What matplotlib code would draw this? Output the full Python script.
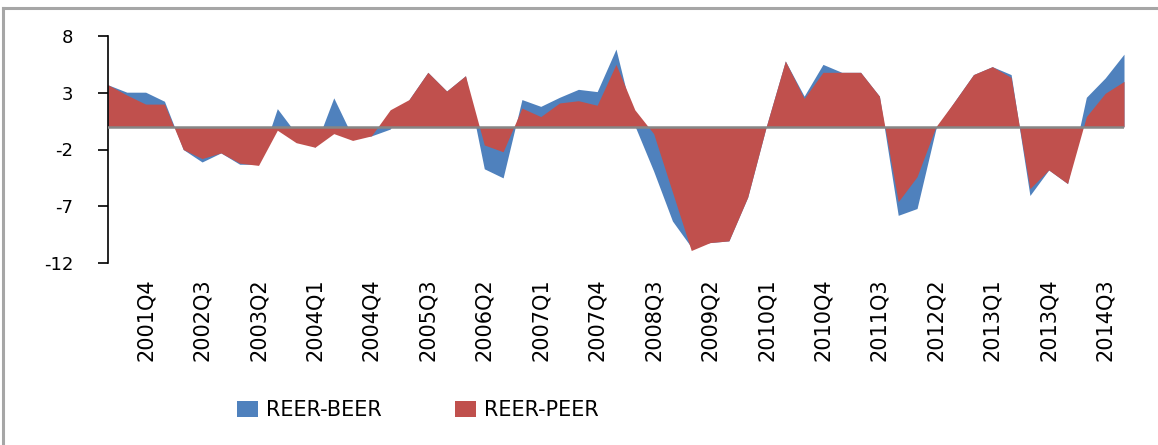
import numpy as np
import matplotlib.pyplot as plt
from matplotlib.patches import Patch
from matplotlib.lines import Line2D

plt.rcParams['axes.unicode_minus'] = False

# quarters 2001Q2 .. 2014Q4
quarters = ['%dQ%d' % (y, q) for y in range(2001, 2015) for q in range(1, 5)][1:]

reer_beer = [3.7, 3.05, 3.05, 2.25, -2.0, -3.1, -2.3, -3.3, -3.3, 1.6,
             -0.6, -1.8, 2.55, -0.9, -0.8, -0.2, 2.4, 4.8, 3.15, 4.5,
             -3.7, -4.5, 2.4, 1.8, 2.6, 3.3, 3.1, 6.85, 0.1, -3.9,
             -8.3, -10.6, -10.2, -10.05, -6.2, 0.1, 5.8, 2.7, 5.5, 4.8,
             4.8, 2.7, -7.8, -7.2, -0.2, 2.25, 4.6, 5.3, 4.6, -6.05,
             -3.8, -5.0, 2.6, 4.3, 6.4]
reer_peer = [3.7, 2.8, 2.0, 2.0, -2.0, -2.8, -2.3, -3.2, -3.4, -0.3,
             -1.4, -1.8, -0.6, -1.2, -0.8, 1.5, 2.4, 4.8, 3.15, 4.5,
             -1.6, -2.2, 1.65, 0.9, 2.1, 2.3, 1.9, 5.5, 1.5, -0.6,
             -5.75, -10.9, -10.2, -10.05, -6.2, 0.1, 5.8, 2.5, 4.8, 4.8,
             4.8, 2.7, -6.6, -4.4, 0.0, 2.25, 4.6, 5.3, 4.35, -5.45,
             -3.8, -5.0, 0.9, 2.95, 4.0]

blue = '#4F81BD'
red = '#C0504D'

W, H = 1158, 445
fig = plt.figure(figsize=(W / 100, H / 100), dpi=100)
ax = fig.add_axes([108 / W, 1 - 263 / H, 1016 / W, 227 / H])

x = np.arange(len(quarters))
ax.fill_between(x, 0, reer_beer, color=blue, lw=0)
ax.fill_between(x, 0, reer_peer, color=red, lw=0)
ax.axhline(0, color='#868686', lw=1.8, zorder=5)

ax.set_xlim(0, len(quarters) - 1)
ax.set_ylim(-12, 8)
ax.set_yticks([-12, -7, -2, 3, 8])
ax.tick_params(axis='y', direction='out', length=7, width=1.2, pad=18,
               labelsize=13, colors='black')

# label every third quarter starting at 2001Q4
idx = list(range(2, len(quarters), 3))
ax.set_xticks(idx)
ax.set_xticklabels([quarters[i] for i in idx], rotation=90, fontsize=15)
ax.tick_params(axis='x', length=0, pad=11)

for s in ['top', 'right', 'bottom']:
    ax.spines[s].set_visible(False)
ax.spines['left'].set_linewidth(1.2)

# outer chart border (left and top only visible)
fig.add_artist(Line2D([3 / W, 3 / W], [0, 1 - 8 / H], transform=fig.transFigure,
                      color='#a6a6a6', lw=2.2))
fig.add_artist(Line2D([3 / W, 1], [1 - 8 / H, 1 - 8 / H], transform=fig.transFigure,
                      color='#a6a6a6', lw=2.2))

handles = [Patch(facecolor=blue, label='REER-BEER'),
           Patch(facecolor=red, label='REER-PEER')]
fig.legend(handles=handles, loc='center left', bbox_to_anchor=(237 / W, 1 - 410 / H),
           ncol=2, frameon=False, fontsize=15, handlelength=1.0, handleheight=0.8,
           handletextpad=0.4, columnspacing=3.5, borderpad=0, borderaxespad=0)

plt.savefig('out.png', dpi=100)
